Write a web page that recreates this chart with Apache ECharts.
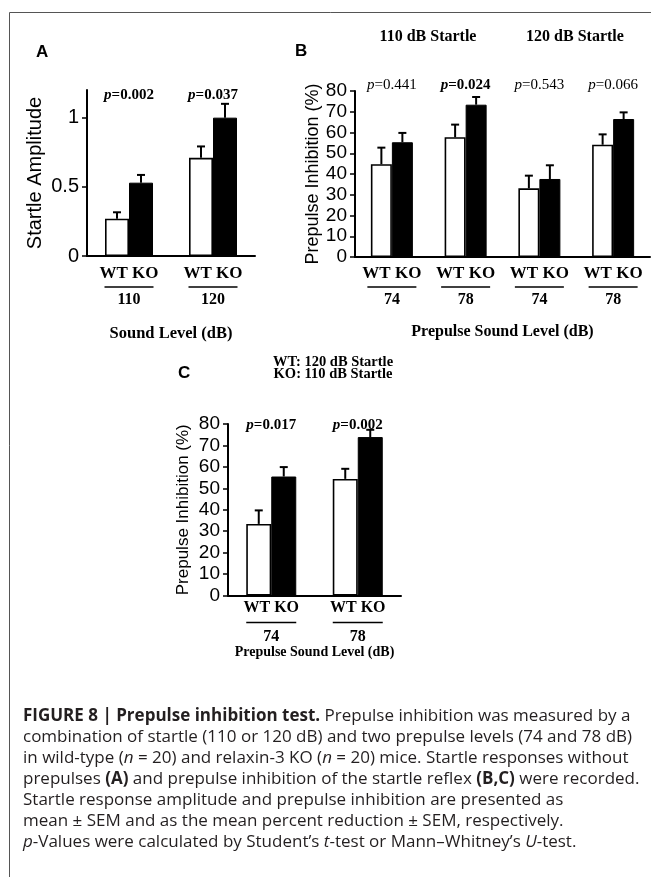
<!DOCTYPE html>
<html>
<head>
<meta charset="utf-8">
<script src="https://cdn.jsdelivr.net/npm/echarts@6/dist/echarts.min.js"></script>
<style>
html,body{margin:0;padding:0;background:#fff;}
#chart{width:651px;height:877px;}
</style>
</head>
<body>
<div id="chart"></div>
<script>
// ---------- data ----------
const groupsA = ['110', '120'];
const wtA = [0.27, 0.71];
const koA = [0.53, 1.00];
const wtAerr = [0.046, 0.082];
const koAerr = [0.056, 0.10];
const pA = ['0.002', '0.037'];
const pAbold = [true, true];
const ticksA = [0, 0.5, 1];

const groupsB = ['74', '78', '74', '78'];
const wtB = [44.7, 57.7, 33.1, 54.1];
const koB = [55.3, 73.4, 37.6, 66.5];
const wtBerr = [8.0, 6.1, 6.1, 5.0];
const koBerr = [4.5, 3.7, 6.6, 3.2];
const pB = ['0.441', '0.024', '0.543', '0.066'];
const pBbold = [false, true, false, false];
const startleB = ['110 dB Startle', '120 dB Startle'];

const groupsC = ['74', '78'];
const wtC = [33.4, 54.4];
const koC = [55.5, 73.9];
const wtCerr = [6.3, 4.7];
const koCerr = [4.4, 3.4];
const pC = ['0.017', '0.002'];
const pCbold = [true, true];
const titleC = ['WT: 120 dB Startle', 'KO: 110 dB Startle'];

// ---------- helpers ----------
const SANS = 'Liberation Sans';
const SERIF = 'Liberation Serif';

function xLabelRich(fs, ln) {
  return {
    wk: {fontFamily: SERIF, fontWeight: 'bold', fontSize: fs.wk, lineHeight: fs.wkLH, color: '#000'},
    ln: {width: ln.w, height: 1.6, backgroundColor: '#000', lineHeight: ln.lh},
    num: {fontFamily: SERIF, fontWeight: 'bold', fontSize: fs.num, lineHeight: fs.numLH, color: '#000'}
  };
}

function errRender(bw) {
  return function (params, api) {
    const x = api.value(0), v = api.value(1), e = api.value(2), s = api.value(3);
    const p0 = api.coord([x, v]);
    const p1 = api.coord([x, v + e]);
    const cx = p0[0] + s * bw / 2;
    return {
      type: 'group',
      children: [
        {type: 'line', shape: {x1: cx, y1: p0[1], x2: cx, y2: p1[1]}, style: {stroke: '#000', lineWidth: 2}},
        {type: 'line', shape: {x1: cx - 4, y1: p1[1], x2: cx + 4, y2: p1[1]}, style: {stroke: '#000', lineWidth: 2}}
      ]
    };
  };
}

function pRender(labels, bolds, yMax, dy, fs) {
  return function (params, api) {
    const i = api.value(0);
    const pt = api.coord([i, yMax]);
    const w = bolds[i] ? 'bold' : 'normal';
    return {
      type: 'text',
      x: pt[0], y: pt[1] + dy,
      style: {
        text: '{i|p}{n|=' + labels[i] + '}',
        align: 'center', verticalAlign: 'middle',
        rich: {
          i: {fontFamily: SERIF, fontStyle: 'italic', fontWeight: w, fontSize: fs, fill: '#000'},
          n: {fontFamily: SERIF, fontWeight: w, fontSize: fs, fill: '#000'}
        }
      }
    };
  };
}

function errData(vals, errs, side) {
  return vals.map((v, i) => [i, v, errs[i], side]);
}

function yAxisBase(gridIndex, name, fs, nameFs, nameGap) {
  return {
    type: 'value', gridIndex: gridIndex,
    name: name, nameLocation: 'middle', nameGap: nameGap,
    nameTextStyle: {fontFamily: SANS, fontSize: nameFs, color: '#000'},
    axisLine: {show: true, lineStyle: {color: '#000', width: 2}},
    axisTick: {show: true, length: 5, lineStyle: {color: '#000', width: 1.5}},
    axisLabel: {fontFamily: SANS, fontSize: fs, color: '#000', margin: 8},
    splitLine: {show: false}
  };
}

function xAxisBase(gridIndex, cats, name, nameFs, nameGap, margin, fs, ln) {
  return {
    type: 'category', gridIndex: gridIndex, data: cats,
    name: name, nameLocation: 'middle', nameGap: nameGap,
    nameTextStyle: {fontFamily: SERIF, fontWeight: 'bold', fontSize: nameFs, color: '#000'},
    axisLine: {show: true, lineStyle: {color: '#000', width: 2}},
    axisTick: {show: false},
    axisLabel: {
      margin: margin, interval: 0,
      formatter: v => '{wk|WT KO}\n{ln|}\n{num|' + v + '}',
      rich: xLabelRich(fs, ln)
    },
    splitLine: {show: false}
  };
}

const BW_A = 24, BW_B = 21, BW_C = 25;
const CAP_FONT = 'Open Sans';
const CAP_FS = 17;

const option = {
  animation: false,
  backgroundColor: '#fff',
  grid: [
    {left: 87, top: 90, width: 168, height: 166},
    {left: 355, top: 91, width: 295, height: 166},
    {left: 228, top: 424, width: 173, height: 171.5}
  ],
  xAxis: [
    xAxisBase(0, groupsA, 'Sound Level (dB)', 16.5, 69, 9,
      {wk: 17, wkLH: 18, num: 16, numLH: 18}, {w: 49, lh: 8}),
    xAxisBase(1, groupsB, 'Prepulse Sound Level (dB)', 16, 67, 8,
      {wk: 17, wkLH: 18, num: 16, numLH: 18}, {w: 49, lh: 8}),
    xAxisBase(2, groupsC, 'Prepulse Sound Level (dB)', 14, 50, 3,
      {wk: 16, wkLH: 18, num: 16, numLH: 16}, {w: 50, lh: 12})
  ],
  yAxis: [
    Object.assign(yAxisBase(0, 'Startle Amplitude', 20, 20, 42), {
      min: 0, max: 1.2,
      axisTick: {show: true, length: 5, lineStyle: {color: '#000', width: 1.5}, customValues: ticksA},
      axisLabel: {fontFamily: SANS, fontSize: 20, color: '#000', margin: 8, customValues: ticksA,
        formatter: v => String(v)}
    }),
    Object.assign(yAxisBase(1, 'Prepulse Inhibition (%)', 19, 18, 32), {min: 0, max: 80, interval: 10}),
    Object.assign(yAxisBase(2, 'Prepulse Inhibition (%)', 19, 17, 36), {min: 0, max: 80, interval: 10})
  ],
  series: [
    // Panel A
    {type: 'bar', name: 'WT', xAxisIndex: 0, yAxisIndex: 0, data: wtA, barWidth: BW_A, barGap: '0%',
      itemStyle: {color: '#fff', borderColor: '#000', borderWidth: 1.6}},
    {type: 'bar', name: 'KO', xAxisIndex: 0, yAxisIndex: 0, data: koA, barWidth: BW_A, barGap: '0%',
      itemStyle: {color: '#000', borderColor: '#000', borderWidth: 1}},
    {type: 'custom', xAxisIndex: 0, yAxisIndex: 0, renderItem: errRender(BW_A), z: 5,
      data: errData(wtA, wtAerr, -1).concat(errData(koA, koAerr, 1))},
    {type: 'custom', xAxisIndex: 0, yAxisIndex: 0, renderItem: pRender(pA, pAbold, 1.2, 5, 15), z: 6, clip: false,
      data: pA.map((p, i) => [i])},
    // Panel B
    {type: 'bar', name: 'WT', xAxisIndex: 1, yAxisIndex: 1, data: wtB, barWidth: BW_B, barGap: '0%',
      itemStyle: {color: '#fff', borderColor: '#000', borderWidth: 1.6}},
    {type: 'bar', name: 'KO', xAxisIndex: 1, yAxisIndex: 1, data: koB, barWidth: BW_B, barGap: '0%',
      itemStyle: {color: '#000', borderColor: '#000', borderWidth: 1}},
    {type: 'custom', xAxisIndex: 1, yAxisIndex: 1, renderItem: errRender(BW_B), z: 5,
      data: errData(wtB, wtBerr, -1).concat(errData(koB, koBerr, 1))},
    {type: 'custom', xAxisIndex: 1, yAxisIndex: 1, renderItem: pRender(pB, pBbold, 80, -6, 15), z: 6, clip: false,
      data: pB.map((p, i) => [i])},
    // Panel C
    {type: 'bar', name: 'WT', xAxisIndex: 2, yAxisIndex: 2, data: wtC, barWidth: BW_C, barGap: '0%',
      itemStyle: {color: '#fff', borderColor: '#000', borderWidth: 1.6}},
    {type: 'bar', name: 'KO', xAxisIndex: 2, yAxisIndex: 2, data: koC, barWidth: BW_C, barGap: '0%',
      itemStyle: {color: '#000', borderColor: '#000', borderWidth: 1}},
    {type: 'custom', xAxisIndex: 2, yAxisIndex: 2, renderItem: errRender(BW_C), z: 5,
      data: errData(wtC, wtCerr, -1).concat(errData(koC, koCerr, 1))},
    {type: 'custom', xAxisIndex: 2, yAxisIndex: 2, renderItem: pRender(pC, pCbold, 80, 1, 15), z: 6, clip: false,
      data: pC.map((p, i) => [i])}
  ],
  graphic: [
    {type: 'rect', shape: {x: 9.5, y: 12.5, width: 700, height: 900}, style: {fill: 'none', stroke: '#555', lineWidth: 1}, silent: true},
    {type: 'text', x: 36, y: 52, style: {text: 'A', fontFamily: SANS, fontWeight: 'bold', fontSize: 17, fill: '#000', verticalAlign: 'middle'}},
    {type: 'text', x: 295, y: 51, style: {text: 'B', fontFamily: SANS, fontWeight: 'bold', fontSize: 17, fill: '#000', verticalAlign: 'middle'}},
    {type: 'text', x: 178, y: 373, style: {text: 'C', fontFamily: SANS, fontWeight: 'bold', fontSize: 17, fill: '#000', verticalAlign: 'middle'}},
    {type: 'text', x: 428, y: 37, style: {text: startleB[0], fontFamily: SERIF, fontWeight: 'bold', fontSize: 16, fill: '#000', align: 'center', verticalAlign: 'middle'}},
    {type: 'text', x: 575, y: 37, style: {text: startleB[1], fontFamily: SERIF, fontWeight: 'bold', fontSize: 16, fill: '#000', align: 'center', verticalAlign: 'middle'}},
    {type: 'text', x: 333, y: 368, style: {text: titleC.join('\n'), fontFamily: SERIF, fontWeight: 'bold', fontSize: 14.5, lineHeight: 12, fill: '#000', align: 'center', verticalAlign: 'middle'}},
    {type: 'text', x: 23, y: 706, style: {
      text: [
        '{b|FIGURE 8 | Prepulse inhibition test.} Prepulse inhibition was measured by a',
        'combination of startle (110 or 120 dB) and two prepulse levels (74 and 78 dB)',
        'in wild-type ({i|n} = 20) and relaxin-3 KO ({i|n} = 20) mice. Startle responses without',
        'prepulses {b|(A)} and prepulse inhibition of the startle reflex {b|(B,C)} were recorded.',
        'Startle response amplitude and prepulse inhibition are presented as',
        'mean \u00b1 SEM and as the mean percent reduction \u00b1 SEM, respectively.',
        '{i|p}-Values were calculated by Student\u2019s {i|t}-test or Mann\u2013Whitney\u2019s {i|U}-test.'
      ].join('\n'),
      fontFamily: CAP_FONT, fontSize: CAP_FS, lineHeight: 21, fill: '#231f20', verticalAlign: 'top',
      rich: {
        b: {fontFamily: CAP_FONT, fontWeight: 'bold', fontSize: CAP_FS, lineHeight: 21, fill: '#231f20'},
        i: {fontFamily: CAP_FONT, fontStyle: 'italic', fontSize: CAP_FS, lineHeight: 21, fill: '#231f20'}
      }
    }}
  ]
};

const chart = echarts.init(document.getElementById('chart'), null, {renderer: 'canvas'});
chart.setOption(option);
</script>
</body>
</html>
